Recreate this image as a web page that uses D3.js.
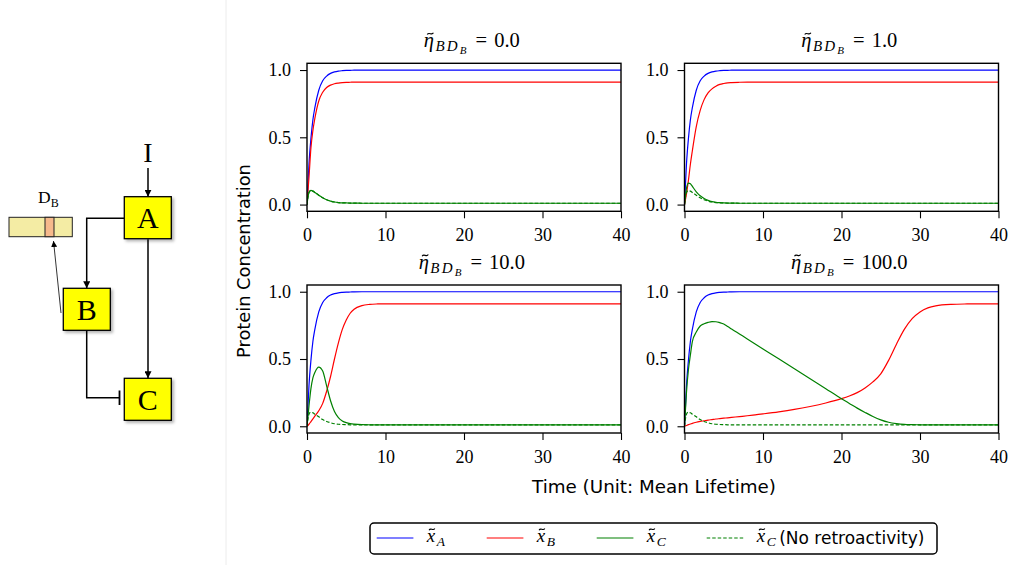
<!DOCTYPE html>
<html>
<head>
<meta charset="utf-8">
<script src="https://cdn.jsdelivr.net/npm/d3@7"></script>
<style>
  html, body { margin: 0; padding: 0; background: #fff; }
  svg { display: block; }
</style>
</head>
<body>
<svg id="fig" width="1011" height="565"></svg>
<script>
// ---- simulation output (normalised concentrations vs. time in mean lifetimes) ----
const times = [0, 0.25, 0.5, 0.75, 1, 1.5, 2, 2.5, 3, 3.5,
               4, 4.5, 5, 5.5, 6, 7, 8, 9, 10, 12,
               14, 16, 18, 20, 21, 22, 23, 24, 25, 26,
               27, 28, 29, 30, 31, 32, 34, 36, 38, 40];

// x_A is identical in every panel
const xA = [0, 0.30, 0.49, 0.63, 0.72, 0.85, 0.92, 0.955, 0.975, 0.986,
            0.992, 0.995, 0.997, 0.998, 0.999, 1.0, 1.0, 1.0, 1.0, 1.0,
            1.0, 1.0, 1.0, 1.0, 1.0, 1.0, 1.0, 1.0, 1.0, 1.0,
            1.0, 1.0, 1.0, 1.0, 1.0, 1.0, 1.0, 1.0, 1.0, 1.0];

// x_C without retroactivity (dashed reference curve, same in every panel)
const xC_noRetro = [0, 0.09, 0.105, 0.10, 0.09, 0.07, 0.05, 0.036, 0.026, 0.019,
                    0.015, 0.013, 0.012, 0.011, 0.0105, 0.01, 0.01, 0.01, 0.01, 0.01,
                    0.01, 0.01, 0.01, 0.01, 0.01, 0.01, 0.01, 0.01, 0.01, 0.01,
                    0.01, 0.01, 0.01, 0.01, 0.01, 0.01, 0.01, 0.01, 0.01, 0.01];

const xB_eta0 = [0, 0.20, 0.42, 0.55, 0.64, 0.77, 0.835, 0.87, 0.888, 0.898,
                 0.903, 0.906, 0.908, 0.909, 0.91, 0.91, 0.91, 0.91, 0.91, 0.91,
                 0.91, 0.91, 0.91, 0.91, 0.91, 0.91, 0.91, 0.91, 0.91, 0.91,
                 0.91, 0.91, 0.91, 0.91, 0.91, 0.91, 0.91, 0.91, 0.91, 0.91];
const xC_eta0 = [0, 0.09, 0.105, 0.10, 0.09, 0.07, 0.05, 0.036, 0.026, 0.019,
                 0.015, 0.013, 0.012, 0.011, 0.0105, 0.01, 0.01, 0.01, 0.01, 0.01,
                 0.01, 0.01, 0.01, 0.01, 0.01, 0.01, 0.01, 0.01, 0.01, 0.01,
                 0.01, 0.01, 0.01, 0.01, 0.01, 0.01, 0.01, 0.01, 0.01, 0.01];

const xB_eta1 = [0, 0.08, 0.18, 0.30, 0.40, 0.58, 0.70, 0.78, 0.83, 0.86,
                 0.88, 0.893, 0.90, 0.905, 0.907, 0.909, 0.91, 0.91, 0.91, 0.91,
                 0.91, 0.91, 0.91, 0.91, 0.91, 0.91, 0.91, 0.91, 0.91, 0.91,
                 0.91, 0.91, 0.91, 0.91, 0.91, 0.91, 0.91, 0.91, 0.91, 0.91];
const xC_eta1 = [0, 0.12, 0.16, 0.155, 0.135, 0.095, 0.065, 0.045, 0.031, 0.022,
                 0.017, 0.014, 0.012, 0.011, 0.0105, 0.01, 0.01, 0.01, 0.01, 0.01,
                 0.01, 0.01, 0.01, 0.01, 0.01, 0.01, 0.01, 0.01, 0.01, 0.01,
                 0.01, 0.01, 0.01, 0.01, 0.01, 0.01, 0.01, 0.01, 0.01, 0.01];

const xB_eta10 = [0, 0.015, 0.035, 0.055, 0.075, 0.115, 0.17, 0.26, 0.37, 0.50,
                  0.62, 0.72, 0.79, 0.84, 0.87, 0.897, 0.906, 0.909, 0.91, 0.91,
                  0.91, 0.91, 0.91, 0.91, 0.91, 0.91, 0.91, 0.91, 0.91, 0.91,
                  0.91, 0.91, 0.91, 0.91, 0.91, 0.91, 0.91, 0.91, 0.91, 0.91];
const xC_eta10 = [0, 0.15, 0.28, 0.36, 0.40, 0.44, 0.41, 0.30, 0.19, 0.11,
                  0.065, 0.04, 0.027, 0.02, 0.016, 0.012, 0.011, 0.0105, 0.01, 0.01,
                  0.01, 0.01, 0.01, 0.01, 0.01, 0.01, 0.01, 0.01, 0.01, 0.01,
                  0.01, 0.01, 0.01, 0.01, 0.01, 0.01, 0.01, 0.01, 0.01, 0.01];

const xB_eta100 = [0, 0.006, 0.012, 0.017, 0.022, 0.03, 0.036, 0.041, 0.046, 0.05,
                   0.054, 0.057, 0.06, 0.063, 0.066, 0.072, 0.078, 0.085, 0.092, 0.107,
                   0.125, 0.147, 0.173, 0.205, 0.225, 0.25, 0.285, 0.33, 0.39, 0.49,
                   0.61, 0.72, 0.80, 0.85, 0.88, 0.895, 0.906, 0.909, 0.91, 0.91];
const xC_eta100 = [0, 0.25, 0.42, 0.53, 0.63, 0.70, 0.745, 0.762, 0.772, 0.778,
                   0.777, 0.77, 0.76, 0.742, 0.723, 0.686, 0.649, 0.612, 0.575, 0.501,
                   0.427, 0.353, 0.279, 0.205, 0.17, 0.135, 0.103, 0.073, 0.048, 0.03,
                   0.02, 0.014, 0.012, 0.011, 0.0105, 0.01, 0.01, 0.01, 0.01, 0.01];

const etaValues = ["0.0", "1.0", "10.0", "100.0"];
const xTicks = [0, 10, 20, 30, 40];
const yTicks = [0, 0.5, 1.0];
const yTickLabels = ["0.0", "0.5", "1.0"];

// ---- styling ----
const serif = "'Liberation Serif', 'DejaVu Serif', serif";
const sans = "'DejaVu Sans', sans-serif";
const colA = "#0000ff", colB = "#ff0000", colC = "#008000";
const LW = 1.2;

const svg = d3.select("#fig");
const defs = svg.append("defs");

// draws a tilde accent (as a stroked curve) over the first glyph of a text element
function addTilde(parent, textSel, size, shiftX) {
  const ext = textSel.node().getExtentOfChar(0);
  const cx = ext.x + ext.width / 2 + shiftX;
  const cy = +textSel.attr("y") - 0.64 * size;
  const w = 0.3 * size, a = 0.07 * size;
  const p = d3.path();
  p.moveTo(cx - w / 2, cy + a * 0.6);
  p.bezierCurveTo(cx - w / 4, cy - a * 1.6, cx + w / 4, cy + a * 1.6, cx + w / 2, cy - a * 0.6);
  parent.append("path").attr("d", p.toString()).attr("fill", "none")
    .attr("stroke", "#000").attr("stroke-width", 1.1);
}

// faint separator between schematic and plots
svg.append("line").attr("x1", 226).attr("x2", 226).attr("y1", 0).attr("y2", 565)
  .attr("stroke", "#ececec").attr("stroke-width", 1);

// ---------------- circuit schematic ----------------
defs.append("marker").attr("id", "arr").attr("viewBox", "0 0 10 10")
  .attr("refX", 10).attr("refY", 5).attr("markerWidth", 7).attr("markerHeight", 7)
  .attr("markerUnits", "userSpaceOnUse").attr("orient", "auto")
  .append("path").attr("d", "M0,0L10,5L0,10z").attr("fill", "#000");
defs.append("marker").attr("id", "arrThin").attr("viewBox", "0 0 10 10")
  .attr("refX", 10).attr("refY", 5).attr("markerWidth", 6).attr("markerHeight", 6)
  .attr("markerUnits", "userSpaceOnUse").attr("orient", "auto")
  .append("path").attr("d", "M0,0L10,5L0,10z").attr("fill", "#000");
const shadow = defs.append("filter").attr("id", "shadow")
  .attr("x", "-20%").attr("y", "-20%").attr("width", "150%").attr("height", "150%");
shadow.append("feDropShadow").attr("dx", 2).attr("dy", 2).attr("stdDeviation", 1.5)
  .attr("flood-color", "#000").attr("flood-opacity", 0.3);

const dia = svg.append("g");
const boxes = [
  { name: "A", x: 124.3, y: 196.7 },
  { name: "B", x: 63.3, y: 288.3 },
  { name: "C", x: 124.3, y: 378.3 }
];
const BW = 47, BH = 42;

// regulatory edges
const edge = (pts, marker, w) => dia.append("path")
  .attr("d", d3.line()(pts)).attr("fill", "none").attr("stroke", "#000")
  .attr("stroke-width", w || 1.5).attr("marker-end", marker ? `url(#${marker})` : null);
edge([[148, 168], [148, 196.7]], "arr");
edge([[124.3, 218.3], [86.7, 218.3], [86.7, 288.3]], "arr");
edge([[148, 239.3], [148, 378.3]], "arr");
edge([[86.7, 330.3], [86.7, 397.7], [119.5, 397.7]]);
dia.append("line").attr("x1", 119.5).attr("x2", 119.5).attr("y1", 390.5).attr("y2", 405)
  .attr("stroke", "#000").attr("stroke-width", 1.8);
// B binds its decoy site D_B
edge([[61, 313], [53.5, 241]], "arrThin", 0.8);

dia.selectAll("rect.node").data(boxes).join("rect").attr("class", "node")
  .attr("x", d => d.x).attr("y", d => d.y).attr("width", BW).attr("height", BH)
  .attr("fill", "#ffff00").attr("stroke", "#000").attr("stroke-width", 1.3)
  .attr("filter", "url(#shadow)");
dia.selectAll("text.node").data(boxes).join("text").attr("class", "node")
  .attr("x", d => d.x + BW / 2).attr("y", d => d.y + BH / 2 + 10.5)
  .attr("text-anchor", "middle").attr("font-family", serif).attr("font-size", 30)
  .text(d => d.name);
dia.append("text").attr("x", 148).attr("y", 161.5).attr("text-anchor", "middle")
  .attr("font-family", serif).attr("font-size", 28).text("I");

// DNA strip with decoy binding site
dia.append("rect").attr("x", 9).attr("y", 217.3).attr("width", 63.3).attr("height", 19.4)
  .attr("fill", "#f4eca4").attr("stroke", "#222").attr("stroke-width", 1);
dia.append("rect").attr("x", 45).attr("y", 217.3).attr("width", 9).attr("height", 19.4)
  .attr("fill", "#f6b98c").attr("stroke", "#222").attr("stroke-width", 1);
const dLabel = dia.append("text").attr("x", 38).attr("y", 203.3)
  .attr("font-family", serif).attr("font-size", 17.5);
dLabel.append("tspan").text("D");
dLabel.append("tspan").attr("font-size", 12).attr("dy", 3.5).text("B");

// ---------------- time-course panels ----------------
const PANEL_W = 314, PANEL_H = 148;
const colLeft = [307, 684.5], rowTop = [63.3, 285];

const panels = [
  { eta: etaValues[0], xB: xB_eta0, xC: xC_eta0, col: 0, row: 0 },
  { eta: etaValues[1], xB: xB_eta1, xC: xC_eta1, col: 1, row: 0 },
  { eta: etaValues[2], xB: xB_eta10, xC: xC_eta10, col: 0, row: 1 },
  { eta: etaValues[3], xB: xB_eta100, xC: xC_eta100, col: 1, row: 1 }
];

const x = d3.scaleLinear().domain([0, 40]).range([0, PANEL_W]);
const y = d3.scaleLinear().domain([-0.05, 1.05]).range([PANEL_H, 0]);
const line = d3.line().x((d, j) => x(times[j])).y(d => y(d)).curve(d3.curveMonotoneX);

defs.append("clipPath").attr("id", "plotClip")
  .append("rect").attr("width", PANEL_W).attr("height", PANEL_H);

function etaTitle(g, value) {
  const t = g.append("text").attr("x", 0).attr("y", -16.5)
    .attr("font-family", serif).attr("font-size", 20.5);
  t.append("tspan").attr("font-style", "italic").text("\u03B7");
  t.append("tspan").attr("font-style", "italic").attr("font-size", 15)
    .attr("dx", 1.5).attr("dy", 4.5).attr("letter-spacing", 2.2).text("BD");
  t.append("tspan").attr("font-style", "italic").attr("font-size", 11)
    .attr("dy", 2.5).text("B");
  t.append("tspan").attr("dx", 9).attr("dy", -7).text("=");
  t.append("tspan").attr("dx", 7).text(value);
  const w = t.node().getComputedTextLength();
  t.attr("x", PANEL_W / 2 - w / 2 - 1);
  addTilde(g, t, 20.5, 1.5);
}

panels.forEach(p => {
  const g = svg.append("g").attr("transform", `translate(${colLeft[p.col]},${rowTop[p.row]})`);
  const plot = g.append("g").attr("clip-path", "url(#plotClip)");
  const series = [
    { v: xA, c: colA, dash: null },
    { v: p.xB, c: colB, dash: null },
    { v: p.xC, c: colC, dash: null },
    { v: xC_noRetro, c: colC, dash: "3.5,2" }
  ];
  plot.selectAll("path").data(series).join("path")
    .attr("d", d => line(d.v)).attr("fill", "none")
    .attr("stroke", d => d.c).attr("stroke-width", LW)
    .attr("stroke-dasharray", d => d.dash);

  const xAxis = g.append("g").attr("transform", `translate(0,${PANEL_H})`)
    .call(d3.axisBottom(x).tickValues(xTicks).tickFormat(d3.format("d"))
      .tickSize(7).tickSizeOuter(0).tickPadding(10));
  const yAxis = g.append("g")
    .call(d3.axisLeft(y).tickValues(yTicks).tickFormat((d, i) => yTickLabels[i])
      .tickSize(7).tickSizeOuter(0).tickPadding(9));
  [xAxis, yAxis].forEach(a => {
    a.select(".domain").remove();
    a.selectAll(".tick line").attr("stroke", "#000").attr("stroke-width", 1.1);
    a.selectAll(".tick text").attr("font-family", serif).attr("font-size", 18).attr("fill", "#000");
  });

  g.append("rect").attr("width", PANEL_W).attr("height", PANEL_H)
    .attr("fill", "none").attr("stroke", "#000").attr("stroke-width", 1.4);
  etaTitle(g, p.eta);
});

// shared axis labels
svg.append("text").attr("x", 654).attr("y", 493).attr("text-anchor", "middle")
  .attr("font-family", sans).attr("font-size", 18.3).text("Time (Unit: Mean Lifetime)");
svg.append("text").attr("transform", "translate(250,261) rotate(-90)")
  .attr("text-anchor", "middle").attr("font-family", sans).attr("font-size", 17.8)
  .text("Protein Concentration");

// ---------------- legend ----------------
const legendItems = [
  { sub: "A", c: colA, dash: null, extra: "" },
  { sub: "B", c: colB, dash: null, extra: "" },
  { sub: "C", c: colC, dash: null, extra: "" },
  { sub: "C", c: colC, dash: "3.5,2", extra: "(No retroactivity)" }
];
const leg = svg.append("g");
leg.append("rect").attr("x", 370).attr("y", 523).attr("width", 567).attr("height", 31)
  .attr("rx", 4).attr("fill", "#fff").attr("stroke", "#000").attr("stroke-width", 1.5);
legendItems.forEach((d, i) => {
  const it = leg.append("g").attr("transform", `translate(${376.7 + i * 110},538)`);
  it.append("line").attr("x1", 0).attr("x2", 36.7).attr("y1", 0).attr("y2", 0)
    .attr("stroke", d.c).attr("stroke-width", LW).attr("stroke-dasharray", d.dash);
  const lt = it.append("text").attr("x", 50).attr("y", 3.5)
    .attr("font-family", serif).attr("font-size", 19);
  lt.append("tspan").attr("font-style", "italic").text("x");
  lt.append("tspan").attr("font-style", "italic").attr("font-size", 13.5)
    .attr("dx", 1.5).attr("dy", 4).text(d.sub);
  addTilde(it, lt, 19, 1);
  if (d.extra) {
    const end = 50 + lt.node().getComputedTextLength();
    it.append("text").attr("x", end + 5).attr("y", 5.5)
      .attr("font-family", sans).attr("font-size", 17).text(d.extra);
  }
});
</script>
</body>
</html>
